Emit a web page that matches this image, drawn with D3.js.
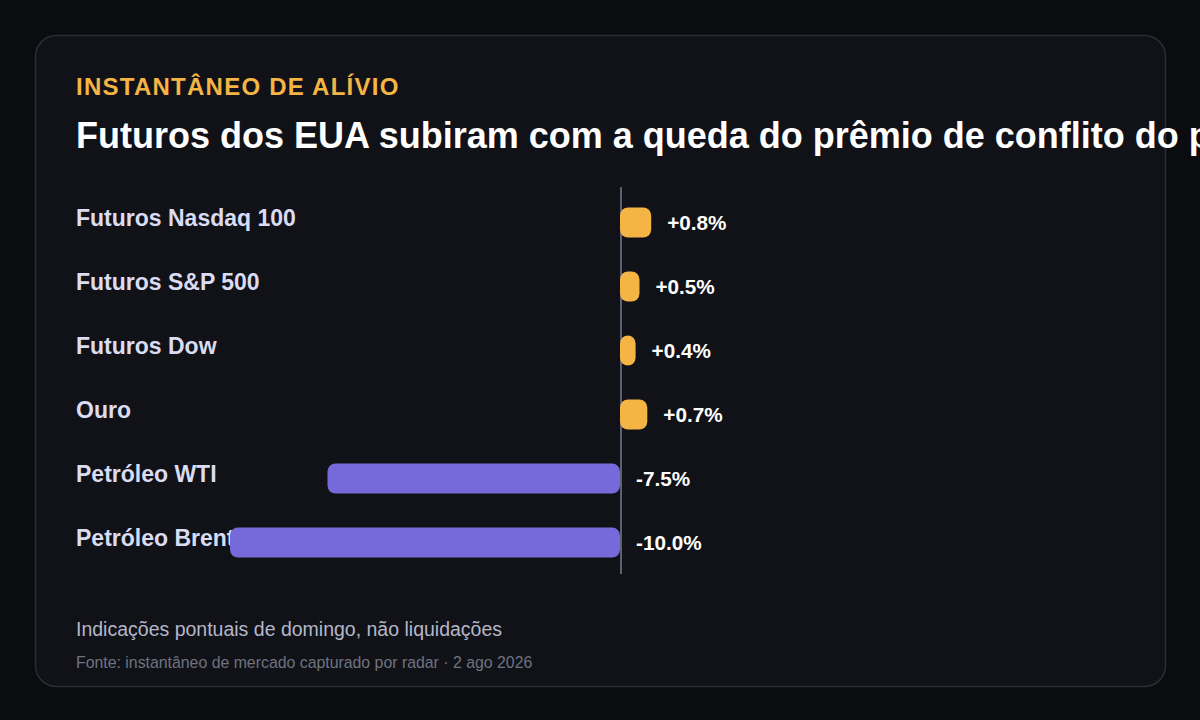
<!DOCTYPE html>
<html>
<head>
<meta charset="utf-8">
<script src="https://cdn.jsdelivr.net/npm/d3@7"></script>
<style>
  html, body { margin: 0; padding: 0; background: #0b0c10; }
  #container { width: 1200px; height: 720px; overflow: hidden; }
</style>
</head>
<body>
<div id="container"></div>
<script>
let w = 1200;
let h = 720;

let assets = ["Futuros Nasdaq 100", "Futuros S&P 500", "Futuros Dow", "Ouro", "Petróleo WTI", "Petróleo Brent"];
let changes = [0.8, 0.5, 0.4, 0.7, -7.5, -10.0];

let kicker = "INSTANTÂNEO DE ALÍVIO";
let title = "Futuros dos EUA subiram com a queda do prêmio de conflito do petróleo";
let note = "Indicações pontuais de domingo, não liquidações";
let source = "Fonte: instantâneo de mercado capturado por radar · 2 ago 2026";

let rows = assets.map((a, i) => ({ name: a, value: changes[i] }));

let font = "'Liberation Sans', Arial, Helvetica, sans-serif";

let viz = d3.select("#container")
  .append("svg")
    .attr("class", "viz")
    .attr("width", w)
    .attr("height", h)
;

viz.append("rect")
    .attr("width", w)
    .attr("height", h)
    .attr("fill", "#0b0c10")
;

// card
viz.append("rect")
    .attr("x", 35.5)
    .attr("y", 35.5)
    .attr("width", 1130)
    .attr("height", 651)
    .attr("rx", 21)
    .attr("fill", "#111217")
    .style("stroke", "#2b2d34")
    .style("stroke-width", 1.5)
;

viz.append("text")
    .text(kicker)
    .attr("x", 76)
    .attr("y", 95)
    .attr("fill", "#f5b544")
    .style("font-size", "24px")
    .style("font-weight", "bold")
    .style("letter-spacing", "1.25px")
    .style("font-family", font)
;

// title runs past the card edge, as in the snapshot
viz.append("text")
    .text(title)
    .attr("x", 76)
    .attr("y", 148)
    .attr("fill", "#ffffff")
    .style("font-size", "36px")
    .style("font-weight", "bold")
    .style("font-family", font)
;

// scales
let x = d3.scaleLinear()
  .domain([-10, 0.8])
  .range([230, 651.2]);

let y = d3.scaleBand()
  .domain(assets)
  .range([190.5, 574.5])
  .paddingInner(0.53)
  .paddingOuter(0.265);

let fmt = v => (v > 0 ? "+" : "") + v.toFixed(1) + "%";

// zero line
viz.append("line")
    .attr("x1", x(0) + 1)
    .attr("x2", x(0) + 1)
    .attr("y1", 187)
    .attr("y2", 574)
    .style("stroke", "#5c6072")
    .style("stroke-width", 2)
;

let rowGroup = viz.selectAll(".row")
  .data(rows)
  .enter()
  .append("g")
    .attr("class", "row")
;

rowGroup.append("text")
    .text(d => d.name)
    .attr("x", 76)
    .attr("y", d => y(d.name) + y.bandwidth() / 2 + 3)
    .attr("fill", "#dadcf2")
    .style("font-size", "23px")
    .style("font-weight", "bold")
    .style("font-family", font)
;

rowGroup.append("rect")
    .attr("x", d => x(Math.min(0, d.value)))
    .attr("y", d => y(d.name))
    .attr("width", d => Math.abs(x(d.value) - x(0)))
    .attr("height", y.bandwidth())
    .attr("rx", 8)
    .attr("fill", d => d.value >= 0 ? "#f5b544" : "#7669d9")
;

rowGroup.append("text")
    .text(d => fmt(d.value))
    .attr("x", d => (d.value >= 0 ? x(d.value) : x(0)) + 16)
    .attr("y", d => y(d.name) + y.bandwidth() / 2 + 7)
    .attr("fill", "#ffffff")
    .style("font-size", "20.7px")
    .style("font-weight", "bold")
    .style("font-family", font)
;

viz.append("text")
    .text(note)
    .attr("x", 76)
    .attr("y", 636)
    .attr("fill", "#b4b7c9")
    .style("font-size", "19.5px")
    .style("font-family", font)
;

viz.append("text")
    .text(source)
    .attr("x", 76)
    .attr("y", 668)
    .attr("fill", "#6f7281")
    .style("font-size", "15.85px")
    .style("font-family", font)
;
</script>
</body>
</html>
